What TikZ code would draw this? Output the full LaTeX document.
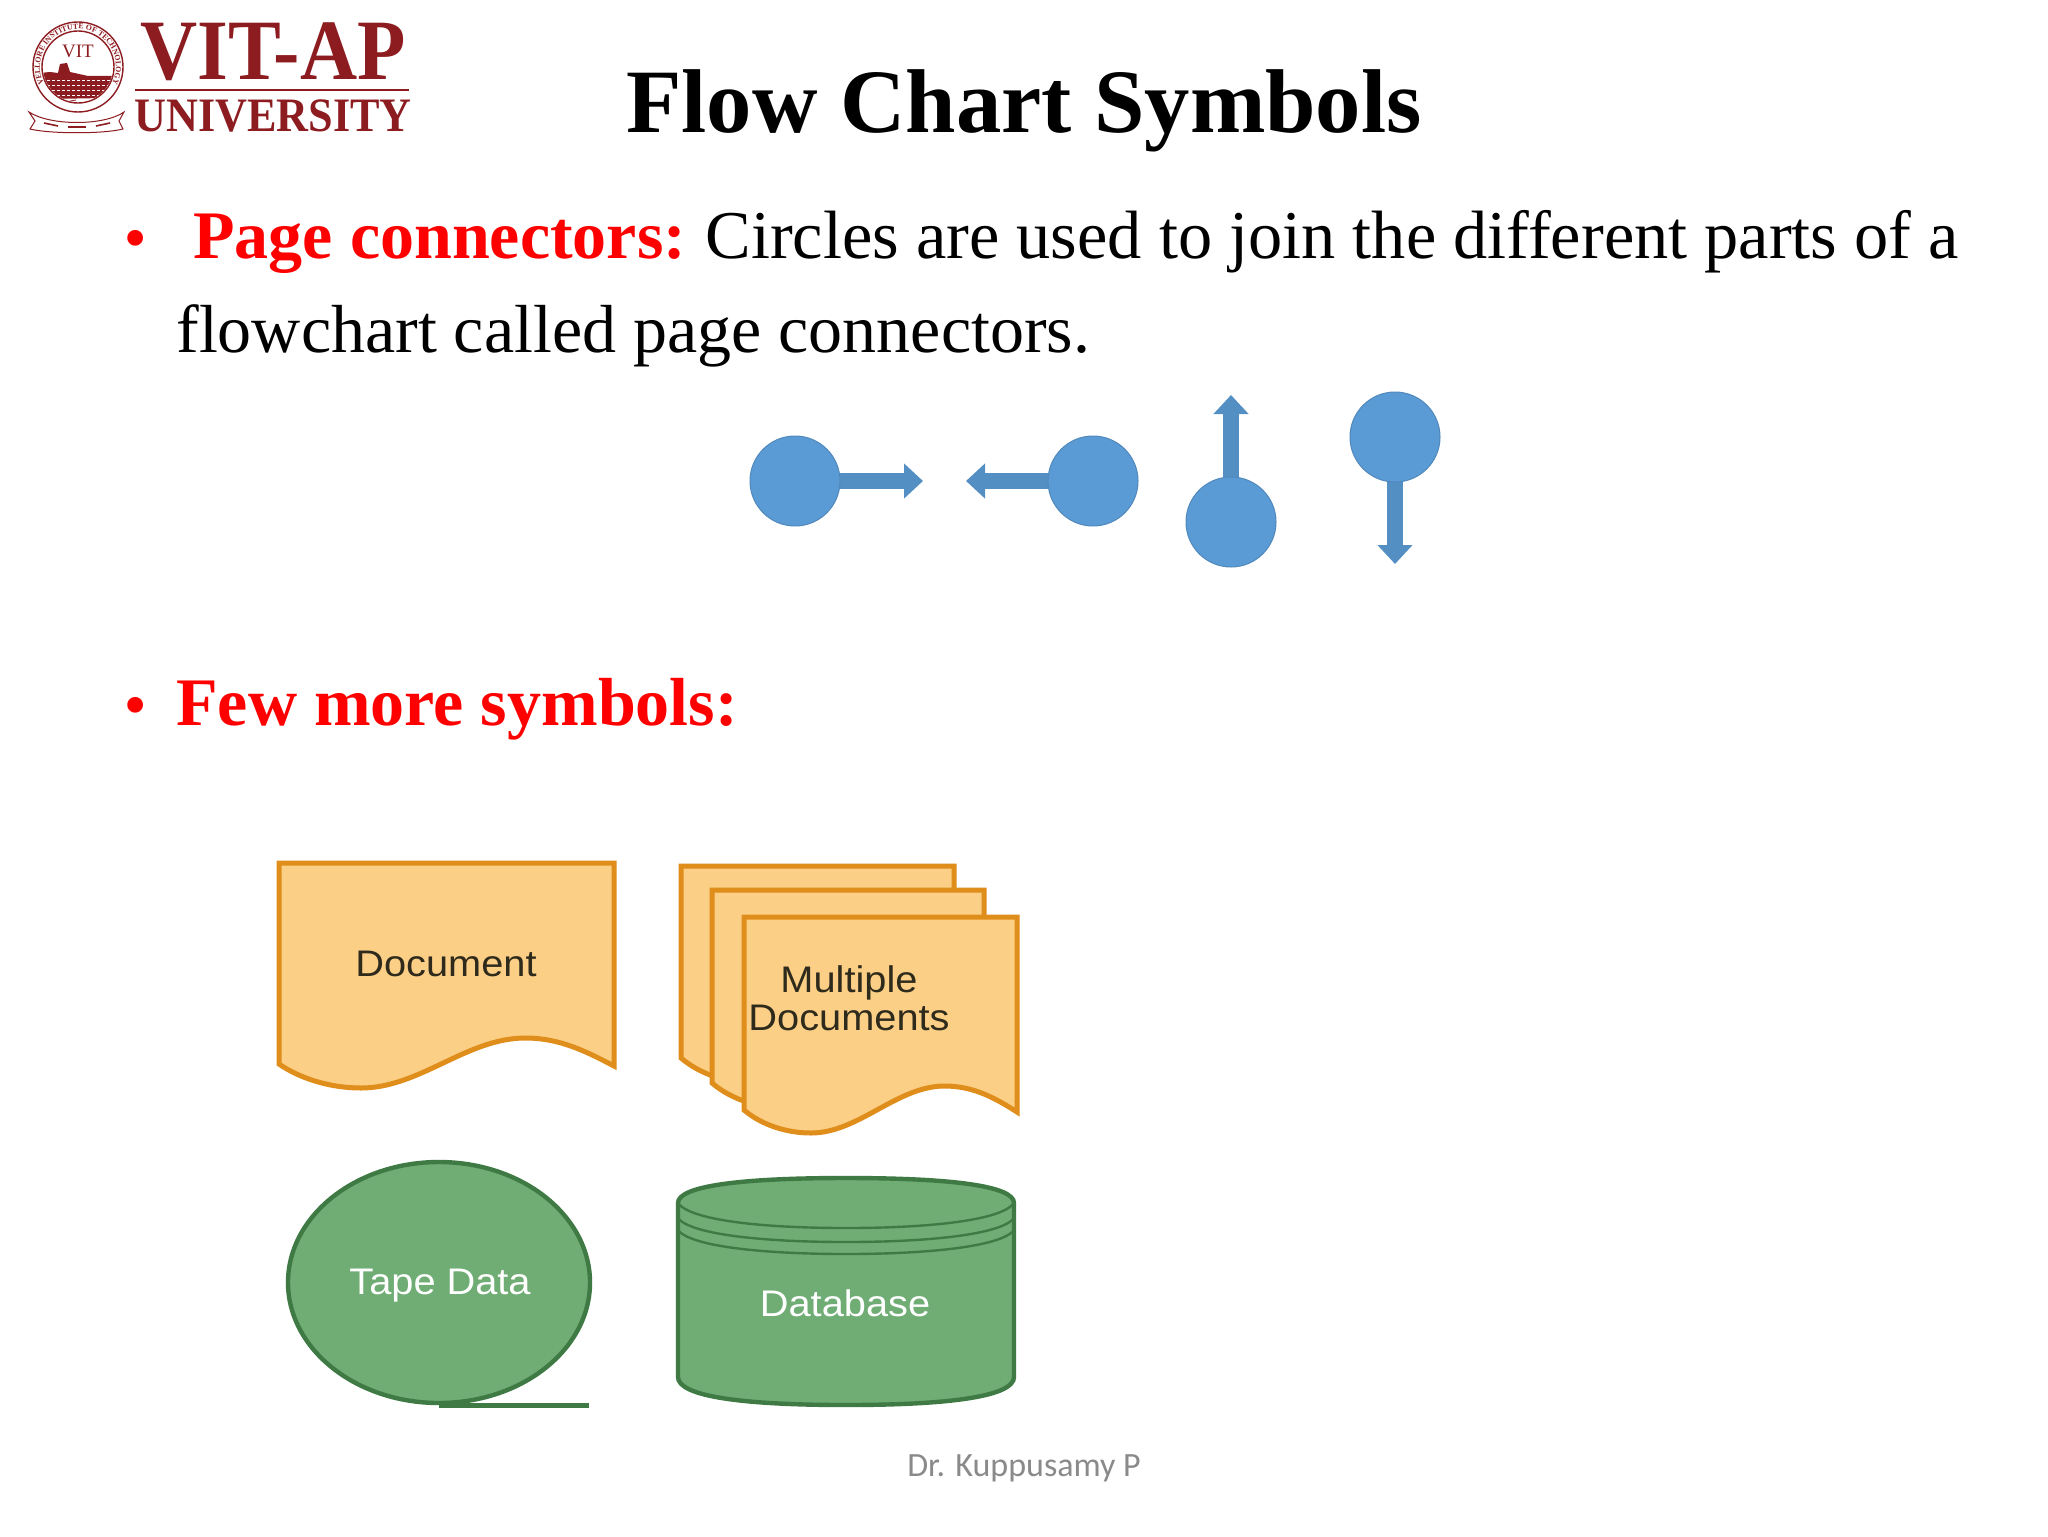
\documentclass[tikz,border=0pt]{standalone}
\usepackage{fontspec}
\setmainfont{Liberation Serif}
\newfontfamily\diagfont{Liberation Sans}
\newfontfamily\footfont{Carlito}
\usetikzlibrary{arrows.meta,shapes.geometric,decorations.text,backgrounds}
\definecolor{vitred}{HTML}{8C1C20}
\definecolor{bluefill}{HTML}{5B9BD5}
\definecolor{orangeline}{HTML}{DF8E1C}
\definecolor{orangefill}{HTML}{FCCF86}
\definecolor{greenfill}{HTML}{70AD74}
\definecolor{greenline}{HTML}{3F7A44}
\definecolor{doctext}{HTML}{2E2A1C}
% left, top, right, y of left bottom corner, y of wave low, y of wave high, y of right bottom corner
\newcommand{\docpath}[7]{%
  \filldraw[docshape] (#1,#2) -- (#3,#2) -- (#3,#7)
  .. controls ({#3-0.08*(#3-#1)},{#7-14}) and ({#1+0.84*(#3-#1)},#6) .. ({#1+0.735*(#3-#1)},#6)
  .. controls ({#1+0.56*(#3-#1)},#6) and ({#1+0.42*(#3-#1)},#5) .. ({#1+0.245*(#3-#1)},#5)
  .. controls ({#1+0.15*(#3-#1)},#5) and ({#1+0.06*(#3-#1)},{#4+14}) .. (#1,#4) -- cycle;}
\tikzset{
  x=0.5pt,y=-0.5pt,
  titletext/.style={anchor=base,inner sep=0,font=\bfseries\fontsize{45.3}{50}\selectfont},
  bodytext/.style={anchor=base west,inner sep=0,font=\fontsize{34.18}{40}\selectfont},
  bodytexttwo/.style={anchor=base west,inner sep=0,font=\fontsize{34}{40}\selectfont},
  redtext/.style={anchor=base west,inner sep=0,text=red,font=\bfseries\fontsize{34}{40}\selectfont},
  bullettext/.style={anchor=base west,inner sep=0,text=red,font=\bfseries\fontsize{29}{40}\selectfont},
  conn/.style={circle,fill=bluefill,draw=bluefill!88!black,line width=0.5pt,minimum size=45pt,inner sep=0},
  blockarrow/.style={draw=bluefill!92!black,line width=8pt,-{Triangle[length=9.5pt,width=17pt]}},
  docshape/.style={fill=orangefill,draw=orangeline,line width=2.5pt,line join=miter},
  doclabel/.style={inner sep=0,text=doctext,xscale=1.075,font=\diagfont\fontsize{18.5}{20}\selectfont},
  greenlabel/.style={inner sep=0,text=white,xscale=1.075,font=\diagfont\fontsize{18.5}{20}\selectfont},
  greenshape/.style={fill=greenfill,draw=greenline,line width=2.2pt},
}
\begin{document}
\begin{tikzpicture}
\useasboundingbox (0,0) rectangle (2048,1536);
% ---------- logo
\draw[vitred,line width=0.7pt] (78,67) circle (45);
\draw[vitred,line width=0.7pt] (78,67) circle (36);
\path[postaction={decorate},decoration={text along path,text align=center,
  text={|\bfseries\fontsize{3.9}{5}\selectfont\color{vitred}|VELLORE INSTITUTE OF TECHNOLOGY}}]
  (48.9,91.4) arc[start angle=140,end angle=400,radius=38];
\node[inner sep=0,text=vitred,font=\fontsize{9.5}{10}\selectfont] (vitseal) at (78,51) {VIT};
\begin{scope}
  \clip (78,67) circle (35);
  \fill[vitred] (40,73) -- (50,72) -- (58,73) -- (60,64) -- (67,63) -- (70,72) -- (88,76) -- (114,76) -- (114,88) -- (104,98) -- (50,99) -- cycle;
  \draw[white,line width=0.6pt] (88,74) .. controls (93,71) and (97,76) .. (102,73) .. controls (106,71) and (109,76) .. (114,72);
  \foreach \yy in {80,85,90,95}{\draw[white,line width=0.25pt,dash pattern=on 1.5pt off 1pt] (42,\yy) -- (114,\yy);}
  \draw[vitred,line width=0.4pt] (60,103) -- (76,100) (84,104) -- (98,101);
\end{scope}
\draw[vitred,line width=0.5pt,fill=white] (29,112) .. controls (50,126) and (104,126) .. (124,112) -- (119,121) -- (123,129) .. controls (104,134) and (50,134) .. (30,129) -- (35,121) -- cycle;
\foreach \xa/\ya/\xb/\yb in {44/123/58/126,68/127/86/127,96/126/110/123}{\draw[vitred,line width=0.8pt] (\xa,\ya) -- (\xb,\yb);}
\node[anchor=base,inner sep=0,text=vitred,xscale=0.92,font=\bfseries\fontsize{43}{44}\selectfont] (logoa) at (273,80) {VIT-AP};
\node[anchor=base,inner sep=0,text=vitred,xscale=0.92,font=\bfseries\fontsize{24}{26}\selectfont] (logob) at (273,132) {UNIVERSITY};
\draw[vitred,line width=1pt] (135,90) -- (409,90);
% ---------- text
\node[titletext] (title) at (1024,133) {Flow Chart Symbols};
\node[bullettext] (b1) at (125,257) {•};
\node[redtext] (pc) at (193,258) {Page connectors:};
\node[bodytext] (pc1) at (705,258) {Circles are used to join the different parts of a};
\node[bodytexttwo] (pc2) at (176,352) {flowchart called page connectors.};
\node[bullettext] (b2) at (125,724) {•};
\node[redtext] (few) at (176,725) {Few more symbols:};
% ---------- page connectors
\node[conn] (c1) at (795,481) {};
\node[conn] (c2) at (1093,481) {};
\node[conn] (c3) at (1231,522) {};
\node[conn] (c4) at (1395,437) {};
\coordinate (t1) at (923,481);
\coordinate (t2) at (966,481);
\coordinate (t3) at (1231,395);
\coordinate (t4) at (1395,564);
\begin{scope}[on background layer]
\draw[blockarrow] (c1.center) -- (t1);
\draw[blockarrow] (c2.center) -- (t2);
\draw[blockarrow] (c3.center) -- (t3);
\draw[blockarrow] (c4.center) -- (t4);
\end{scope}
% ---------- documents
\docpath{279}{863}{614}{1064}{1088}{1038}{1066}
\node[doclabel] (doc) at (446,964) {Document};
\docpath{681}{866}{954}{1058}{1082}{1035}{1060}
\docpath{712}{890}{984}{1083}{1107}{1060}{1085}
\docpath{744}{917}{1017}{1110}{1133}{1086}{1112}
\node[doclabel] (m1) at (849,983) {Multiple};
\node[doclabel] (m2) at (849,1018) {Documents};
% ---------- tape
\node[ellipse,greenshape,minimum width=151pt,minimum height=120.5pt,inner sep=0] (tape) at (439,1282.5) {};
\coordinate (tapeend) at (589,1403);
\draw[greenline,line width=2.5pt] (tape.south) -- (tape.south -| tapeend);
\node[greenlabel] (tapel) at (440,1286) {Tape Data};
% ---------- database
\filldraw[greenshape] (678,1203) .. controls (678,1186) and (740,1178) .. (846,1178) .. controls (952,1178) and (1014,1186) .. (1014,1203)
  -- (1014,1377) .. controls (1014,1396) and (952,1405) .. (846,1405) .. controls (740,1405) and (678,1396) .. (678,1377) -- cycle;
\draw[greenline,line width=1.2pt] (678,1203) .. controls (690,1220) and (760,1228) .. (846,1228) .. controls (932,1228) and (1002,1220) .. (1014,1203);
\draw[greenline,line width=1.2pt] (678,1218) .. controls (690,1234) and (760,1242) .. (846,1242) .. controls (932,1242) and (1002,1234) .. (1014,1218);
\draw[greenline,line width=1.2pt] (678,1230) .. controls (690,1246) and (760,1254) .. (846,1254) .. controls (932,1254) and (1002,1246) .. (1014,1230);
\node[greenlabel] (db) at (845,1303) {Database};
% ---------- footer
\node[inner sep=0,anchor=base,text=black!46,font=\footfont\fontsize{17}{18}\selectfont] (foot) at (1024,1476) {Dr. Kuppusamy P};
\end{tikzpicture}
\end{document}
